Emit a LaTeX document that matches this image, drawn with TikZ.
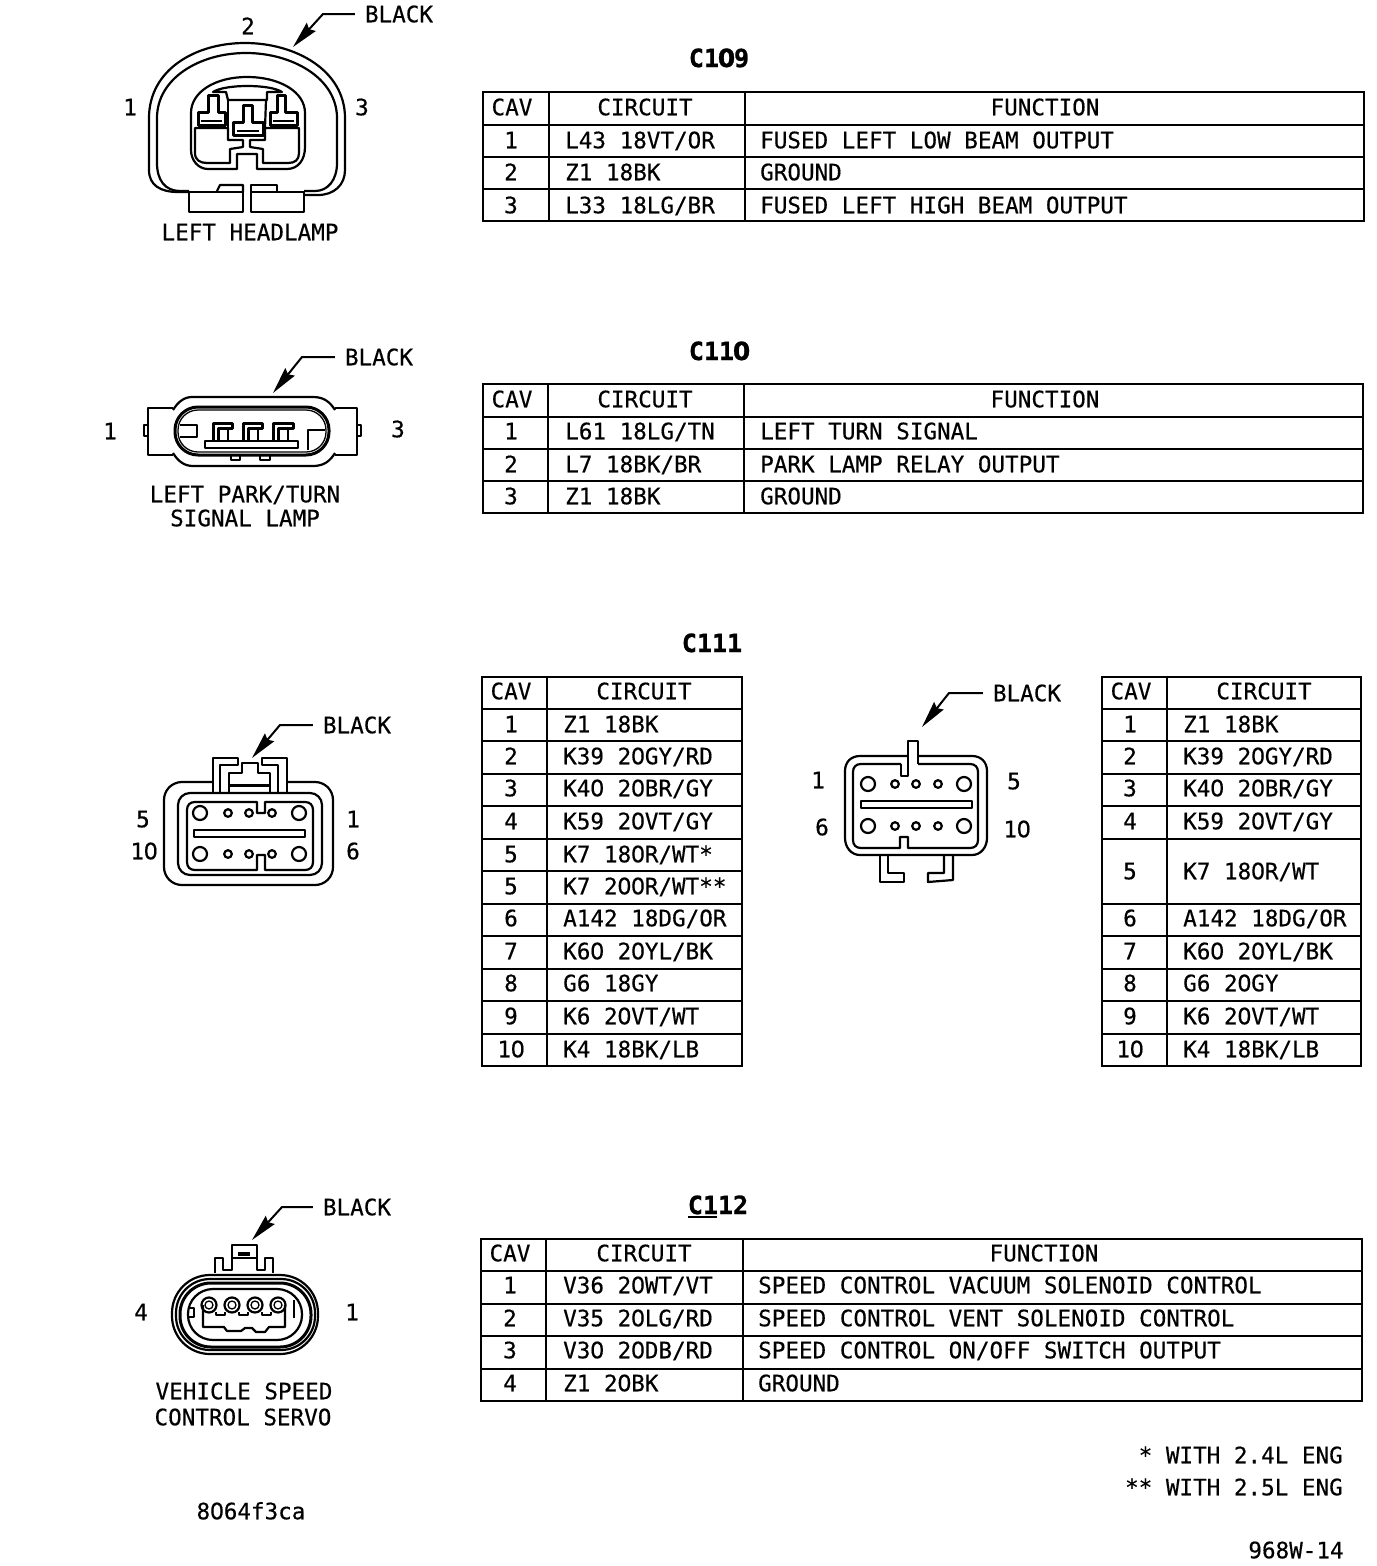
\documentclass[tikz,border=0pt]{standalone}
\usepackage{fontspec}
\usetikzlibrary{arrows.meta}
\setmainfont{DejaVu Sans Mono}[FakeBold=0.4,BoldFeatures={FakeBold=1}]
\newfontfamily\zerofam{DejaVu Sans}[FakeBold=0.4,BoldFeatures={FakeBold=1}]
\newcommand\zr{\makebox[0.602em][c]{\zerofam 0}}
\newcounter{tx}
\tikzset{
  x=1pt,y=-1pt,
  txt/.style={inner sep=0pt,text height=16.5pt,text depth=0pt,font=\fontsize{22.6}{24}\selectfont},
  lft/.style={txt,anchor=west},
  ttl/.style={inner sep=0pt,text height=18pt,text depth=0pt,font=\fontsize{25}{27}\selectfont\bfseries},
  grid/.style={line width=2.6pt,line cap=rect},
  ln/.style={line width=2.2pt,line join=round},
  thick2/.style={line width=3pt,line join=round},
  leader/.style={line width=2pt,shorten <=10pt,-{Stealth[length=27pt,width=12pt,inset=3pt]}},
}
\newcommand\Lb[3][txt]{\stepcounter{tx}\node[#1] (t\arabic{tx}) at (#2) {#3};}
% columns: cav centre, circuit left, function left
\newcommand\RowF[4]{\Lb{\cx,#1}{#2}\Lb[lft]{\cy,#1}{#3}\Lb[lft]{\cz,#1}{#4}}
\newcommand\RowC[3]{\Lb{\cx,#1}{#2}\Lb[lft]{\cy,#1}{#3}}
\begin{document}
\begin{tikzpicture}
\fill[white] (0,0) rectangle (1376,1566);
\useasboundingbox (0,0) rectangle (1376,1566);

% ===== C109 =====
\Lb[ttl]{719,58}{C1\zr 9}
\draw[grid] (483,92) rectangle (1364,221);
\foreach \yy in {125,157,189} \draw[grid] (483,\yy) -- (1364,\yy);
\foreach \xx in {549,745} \draw[grid] (\xx,92) -- (\xx,221);
\def\cx{511}\def\cy{565}\def\cz{760}
\Lb{512,107}{CAV}\Lb{645,107}{CIRCUIT}\Lb{1045,107}{FUNCTION}
\RowF{140}{1}{L43 18VT/OR}{FUSED LEFT LOW BEAM OUTPUT}
\RowF{172}{2}{Z1 18BK}{GROUND}
\RowF{205}{3}{L33 18LG/BR}{FUSED LEFT HIGH BEAM OUTPUT}

% ===== C110 =====
\Lb[ttl]{719,351}{C11\zr}
\draw[grid] (483,384) rectangle (1363,513);
\foreach \yy in {417,449,481} \draw[grid] (483,\yy) -- (1363,\yy);
\foreach \xx in {548,744} \draw[grid] (\xx,384) -- (\xx,513);
\Lb{512,399}{CAV}\Lb{645,399}{CIRCUIT}\Lb{1045,399}{FUNCTION}
\RowF{431}{1}{L61 18LG/TN}{LEFT TURN SIGNAL}
\RowF{464}{2}{L7 18BK/BR}{PARK LAMP RELAY OUTPUT}
\RowF{496}{3}{Z1 18BK}{GROUND}

% ===== C111 =====
\Lb[ttl]{712,643}{C111}
\draw[grid] (482,677) rectangle (742,1066);
\foreach \yy in {709,741,774,806,839,871,904,936,969,1001,1034} \draw[grid] (482,\yy) -- (742,\yy);
\draw[grid] (547,677) -- (547,1066);
\def\cx{511}\def\cy{563}
\Lb{511,691}{CAV}\Lb{644,691}{CIRCUIT}
\RowC{724}{1}{Z1 18BK}
\RowC{756}{2}{K39 2\zr GY/RD}
\RowC{788}{3}{K4\zr{} 2\zr BR/GY}
\RowC{821}{4}{K59 2\zr VT/GY}
\RowC{854}{5}{K7 18\zr R/WT*}
\RowC{886}{5}{K7 2\zr\zr R/WT**}
\RowC{918}{6}{A142 18DG/OR}
\RowC{951}{7}{K6\zr{} 2\zr YL/BK}
\RowC{983}{8}{G6 18GY}
\RowC{1016}{9}{K6 2\zr VT/WT}
\RowC{1049}{1\zr}{K4 18BK/LB}

\draw[grid] (1102,677) rectangle (1361,1066);
\foreach \yy in {709,741,774,806,839,904,936,969,1001,1034} \draw[grid] (1102,\yy) -- (1361,\yy);
\draw[grid] (1167,677) -- (1167,1066);
\def\cx{1130}\def\cy{1183}
\Lb{1131,691}{CAV}\Lb{1264,691}{CIRCUIT}
\RowC{724}{1}{Z1 18BK}
\RowC{756}{2}{K39 2\zr GY/RD}
\RowC{788}{3}{K4\zr{} 2\zr BR/GY}
\RowC{821}{4}{K59 2\zr VT/GY}
\RowC{871}{5}{K7 18\zr R/WT}
\RowC{918}{6}{A142 18DG/OR}
\RowC{951}{7}{K6\zr{} 2\zr YL/BK}
\RowC{983}{8}{G6 2\zr GY}
\RowC{1016}{9}{K6 2\zr VT/WT}
\RowC{1049}{1\zr}{K4 18BK/LB}

% ===== C112 =====
\Lb[ttl]{718,1205}{C112}
\draw[line width=1.6pt] (688,1217) -- (717,1217);
\draw[grid] (481,1239) rectangle (1362,1401);
\foreach \yy in {1271,1304,1336,1369} \draw[grid] (481,\yy) -- (1362,\yy);
\foreach \xx in {546,743} \draw[grid] (\xx,1239) -- (\xx,1401);
\def\cx{510}\def\cy{563}\def\cz{758}
\Lb{510,1253}{CAV}\Lb{644,1253}{CIRCUIT}\Lb{1044,1253}{FUNCTION}
\RowF{1285}{1}{V36 2\zr WT/VT}{SPEED CONTROL VACUUM SOLENOID CONTROL}
\RowF{1318}{2}{V35 2\zr LG/RD}{SPEED CONTROL VENT SOLENOID CONTROL}
\RowF{1350}{3}{V3\zr{} 2\zr DB/RD}{SPEED CONTROL ON/OFF SWITCH OUTPUT}
\RowF{1383}{4}{Z1 2\zr BK}{GROUND}

% ===== footnotes =====
\node[txt,anchor=east] (fn1) at (1343,1455) {* WITH 2.4L ENG};
\node[txt,anchor=east] (fn2) at (1343,1487) {** WITH 2.5L ENG};
\node[txt] (code) at (251,1511) {8\zr 64f3ca};
\node[txt] (fig) at (1296,1550) {968W-14};

% ===== Connector 1: left headlamp =====
\node[txt] (h2) at (248,26) {2};
\node[txt] (h1) at (130,107) {1};
\node[txt] (h3) at (362,107) {3};
\node[txt] (hname) at (250,232) {LEFT HEADLAMP};
\node[txt] (hb) at (399,14) {BLACK};
\coordinate (hk) at (323,14);
\coordinate (ht) at (293,47);
\draw[leader] (hb.west) -- (hk) -- (ht);
\draw[ln] (189,192) -- (178,192) .. controls (160,192) and (149,185) .. (149,170) -- (149,118)
  .. controls (149,70) and (195,43) .. (245,43) .. controls (295,43) and (345,70) .. (345,118)
  -- (345,170) .. controls (345,185) and (334,195) .. (318,195) -- (304,195);
\draw[ln] (189,191) -- (180,191) .. controls (165,191) and (157,180) .. (157,163) -- (157,118)
  .. controls (157,78) and (200,53) .. (246,53) .. controls (292,53) and (337,78) .. (337,118)
  -- (337,163) .. controls (337,180) and (328,191) .. (315,191) -- (304,191);
\draw[ln] (189,192) rectangle (243,212);
\draw[ln] (251,192) rectangle (304,212);
\draw[ln] (217,191) -- (220,185) -- (243,185) -- (243,192);
\draw[ln] (251,192) -- (251,185) -- (277,185) -- (277,191);
\draw[ln] (191,113) .. controls (191,92) and (215,77) .. (247,77) .. controls (280,77) and (305,92) .. (305,113)
  -- (305,147) .. controls (305,160) and (298,169) .. (287,169) -- (257,169) -- (257,154) -- (237,154) -- (237,169)
  -- (208,169) .. controls (198,169) and (191,160) .. (191,150) -- cycle;
\draw[ln] (195,128) -- (228,128) -- (228,140) -- (243,140) -- (243,147) -- (230,149) -- (230,163) -- (207,163)
  .. controls (200,163) and (195,160) .. (195,153) -- cycle;
\draw[ln] (299,128) -- (265,128) -- (265,140) -- (250,140) -- (250,147) -- (263,149) -- (263,163) -- (288,163)
  .. controls (295,163) and (299,160) .. (299,153) -- cycle;
\draw[ln] (213,92) .. controls (225,84) and (270,84) .. (282,92) -- (267,92) -- (267,100) -- (228,100) -- (226,92) -- cycle;
\draw[ln] (228,100) -- (228,128);
\draw[ln] (266,100) -- (265,128);
\draw[thick2] (208,95) -- (218,95) -- (218,112) -- (225,112) -- (225,125) -- (198,125) -- (198,112) -- (208,112) -- cycle;
\draw[thick2] (243,105) -- (252,105) -- (252,122) -- (263,122) -- (263,135) -- (233,135) -- (233,122) -- (243,122) -- cycle;
\draw[thick2] (277,95) -- (285,95) -- (285,112) -- (297,112) -- (297,125) -- (270,125) -- (270,112) -- (277,112) -- cycle;
\draw[line width=1.2pt] (201,121) -- (222,121);
\draw[line width=1.2pt] (273,121) -- (294,121);
\draw[line width=1.2pt] (237,131) -- (259,131);

% ===== Connector 2: left park/turn signal lamp =====
\node[txt] (p1) at (110,431) {1};
\node[txt] (p3) at (398,429) {3};
\node[txt] (pn1) at (245,494) {LEFT PARK/TURN};
\node[txt] (pn2) at (245,518) {SIGNAL LAMP};
\node[txt] (pb) at (379,357) {BLACK};
\coordinate (pk) at (302,357);
\coordinate (pt) at (273,393);
\draw[leader] (pb.west) -- (pk) -- (pt);
\draw[ln] (173,410) .. controls (178,402) and (184,397) .. (192,397) -- (313,397) .. controls (324,397) and (330,402) .. (335,410);
\draw[ln] (173,453) .. controls (178,461) and (184,466) .. (193,466) -- (313,466) .. controls (324,466) and (330,461) .. (335,453);
\draw[ln] (173,408) -- (148,408) -- (148,455) -- (173,455);
\draw[ln] (148,425) -- (144,425) -- (144,436) -- (148,436);
\draw[ln] (335,408) -- (357,408) -- (357,455) -- (335,455);
\draw[ln] (357,425) -- (361,425) -- (361,436) -- (357,436);
\draw[thick2,rounded corners=23pt] (175,407) rectangle (329,455);
\draw[line width=1.3pt,rounded corners=20pt] (178,410) rectangle (326,452);
\draw[ln] (180,425) -- (197,425) -- (197,437) -- (180,437);
\draw[ln] (325,430) -- (308,430) -- (308,450);
\draw[ln] (205,441) rectangle (298,448);
\draw[thick2] (213,441) -- (213,423) -- (232,423) -- (232,428) -- (218,428) -- (218,441);
\draw[thick2] (243,441) -- (243,423) -- (262,423) -- (262,428) -- (248,428) -- (248,441);
\draw[thick2] (273,441) -- (273,423) -- (293,423) -- (293,428) -- (278,428) -- (278,441);
\draw[ln] (228,428) -- (228,441);
\draw[ln] (258,428) -- (258,441);
\draw[ln] (288,428) -- (288,441);
\draw[ln] (231,456) -- (231,460) -- (240,460) -- (240,456);
\draw[ln] (260,456) -- (260,460) -- (270,460) -- (270,456);

% ===== Connector 3: C111 left =====
\node[txt] (a5) at (143,819) {5};
\node[txt] (a10) at (144,851) {1\zr};
\node[txt] (a1) at (353,819) {1};
\node[txt] (a6) at (353,851) {6};
\node[txt] (ab) at (357,725) {BLACK};
\coordinate (ak) at (280,725);
\coordinate (at) at (252,758);
\draw[leader] (ab.west) -- (ak) -- (at);
\draw[ln] (213,782) -- (182,782) .. controls (172,782) and (164,790) .. (164,800) -- (164,867)
  .. controls (164,877) and (172,885) .. (182,885) -- (315,885) .. controls (325,885) and (333,877) .. (333,867)
  -- (333,800) .. controls (333,790) and (325,782) .. (315,782) -- (287,782);
\draw[ln,rounded corners=12pt] (178,793) rectangle (322,875);
\draw[ln] (195,802) -- (257,802) -- (257,813) -- (265,813) -- (265,802) -- (305,802)
  .. controls (310,802) and (313,805) .. (313,810) -- (313,862) .. controls (313,867) and (310,870) .. (305,870)
  -- (265,870) -- (265,855) -- (257,855) -- (257,870) -- (195,870)
  .. controls (190,870) and (187,867) .. (187,862) -- (187,810) .. controls (187,805) and (190,802) .. (195,802) -- cycle;
\draw[ln] (194,830) rectangle (305,837);
\foreach \yy in {813,854} {
  \draw[ln] (200,\yy) circle (7);
  \draw[ln] (228,\yy) circle (3.8);
  \draw[ln] (249,\yy) circle (3.8);
  \draw[ln] (272,\yy) circle (3.8);
  \draw[ln] (299,\yy) circle (7);
}
\draw[ln] (213,793) -- (213,758) -- (238,758) -- (238,765) -- (220,765) -- (220,793);
\draw[ln] (287,793) -- (287,758) -- (262,758) -- (262,765) -- (278,765) -- (278,793);
\draw[ln] (229,793) -- (229,773) -- (242,773) -- (242,763) -- (258,763) -- (258,773) -- (270,773) -- (270,793);
\draw[thick2] (229,785) -- (270,785);

% ===== Connector 4: C111 right =====
\node[txt] (b1) at (818,780) {1};
\node[txt] (b5) at (1014,781) {5};
\node[txt] (b6) at (822,827) {6};
\node[txt] (b10) at (1017,829) {1\zr};
\node[txt] (bb) at (1027,693) {BLACK};
\coordinate (bk) at (949,693);
\coordinate (bt) at (922,727);
\draw[leader] (bb.west) -- (bk) -- (bt);
\draw[ln] (908,756) -- (860,756) .. controls (851,756) and (845,762) .. (845,771) -- (845,838)
  .. controls (845,847) and (851,855) .. (860,855) -- (972,855) .. controls (981,855) and (987,847) .. (987,838)
  -- (987,771) .. controls (987,762) and (981,756) .. (972,756) -- (918,756);
\draw[ln] (901,764) -- (861,764) .. controls (856,764) and (853,767) .. (853,772) -- (853,840)
  .. controls (853,845) and (856,848) .. (861,848) -- (900,848) -- (900,837) -- (908,837) -- (908,848) -- (970,848)
  .. controls (975,848) and (978,845) .. (978,840) -- (978,772) .. controls (978,767) and (975,764) .. (970,764) -- (918,764);
\draw[ln] (901,764) -- (901,776) -- (908,776) -- (908,741) -- (918,741) -- (918,764);
\draw[ln] (861,801) rectangle (972,808);
\foreach \yy in {784,826} {
  \draw[ln] (868,\yy) circle (7);
  \draw[ln] (895,\yy) circle (3.8);
  \draw[ln] (916,\yy) circle (3.8);
  \draw[ln] (938,\yy) circle (3.8);
  \draw[ln] (964,\yy) circle (7);
}
\draw[ln] (880,856) -- (880,882) -- (904,882) -- (904,873) -- (888,873) -- (888,856);
\draw[ln] (953,856) -- (953,880) -- (928,882) -- (928,873) -- (944,873) -- (944,856);

% ===== Connector 5: vehicle speed control servo =====
\node[txt] (s4) at (141,1312) {4};
\node[txt] (s1) at (352,1312) {1};
\node[txt] (sn1) at (244,1391) {VEHICLE SPEED};
\node[txt] (sn2) at (243,1417) {CONTROL SERVO};
\node[txt] (sb) at (357,1207) {BLACK};
\coordinate (sk) at (282,1207);
\coordinate (st) at (252,1240);
\draw[leader] (sb.west) -- (sk) -- (st);
\draw[ln,rounded corners=38pt] (172,1275) rectangle (318,1354);
\draw[ln,rounded corners=34pt] (176,1279) rectangle (315,1350);
\draw[thick2,rounded corners=31pt] (180,1283) rectangle (311,1347);
\draw[ln,rounded corners=25pt] (188,1289) rectangle (302,1340);
\draw[ln] (215,1273) -- (215,1258) -- (223,1258) -- (223,1270) -- (232,1270) -- (232,1245) -- (257,1245) -- (257,1270) -- (265,1270) -- (265,1258) -- (273,1258) -- (273,1273);
\draw[ln] (232,1258) -- (257,1258);
\fill (238,1252) rectangle (250,1256);
\draw[ln] (203,1305) -- (203,1327) -- (224,1327) -- (227,1331) -- (241,1331) -- (245,1328) -- (252,1328) -- (256,1332) -- (265,1332) -- (269,1327) -- (285,1327) -- (285,1305);
\draw[ln] (216,1312) -- (216,1315) -- (225,1315) -- (225,1312);
\draw[ln] (239,1312) -- (239,1315) -- (248,1315) -- (248,1312);
\draw[ln] (262,1312) -- (262,1315) -- (271,1315) -- (271,1312);
\foreach \xx in {209,232,255,278} {
  \draw[ln] (\xx,1305) circle (7.5);
  \draw[line width=1.3pt] (\xx,1305) circle (4);
}
\draw[ln] (188,1308) -- (194,1308) -- (194,1317) -- (189,1317);
\draw[ln] (294,1300) -- (294,1318);
\end{tikzpicture}
\end{document}
